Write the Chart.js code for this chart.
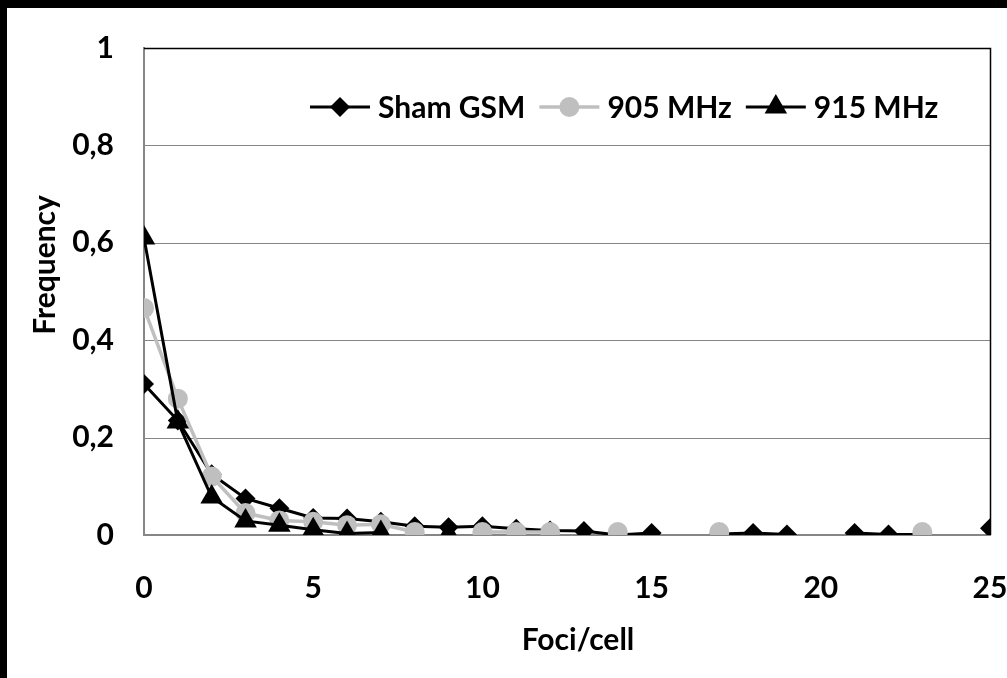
<!DOCTYPE html>
<html>
<head>
<meta charset="utf-8">
<script src="https://cdn.jsdelivr.net/npm/chart.js@4/dist/chart.umd.min.js"></script>
<style>
  html, body { margin: 0; padding: 0; background: #000; width: 1007px; height: 678px; overflow: hidden; }
  #wrap { position: absolute; left: 7px; top: 8px; width: 1000px; height: 670px; background: #fff; }
  canvas { display: block; }
</style>
</head>
<body>
<div id="wrap"><canvas id="c" width="1000" height="670"></canvas></div>
<script>
// ---- data ----
const fociPerCell = [0,1,2,3,4,5,6,7,8,9,10,11,12,13,14,15,16,17,18,19,20,21,22,23,24,25];
const shamGSM = [0.31,0.235,0.125,0.075,0.055,0.035,0.034,0.027,0.018,0.016,0.018,0.013,0.009,0.008,0.0,0.004,null,0.002,0.004,0.001,null,0.004,0.001,0.001,null,0.014];
const mhz905  = [0.466,0.28,0.12,0.045,0.03,0.027,0.02,0.022,0.006,null,0.006,0.006,0.006,null,0.006,null,null,0.006,null,null,null,null,null,0.006,null,null];
const mhz915  = [0.61,0.232,0.078,0.029,0.02,0.011,0.003,0.005,null,0.002,null,null,null,null,null,null,null,null,null,null,null,null,null,null,null,null];
const seriesNames = ['Sham GSM', '905 MHz', '915 MHz'];
const yTicks = [0, 0.2, 0.4, 0.6, 0.8, 1];
const xTicks = [0, 5, 10, 15, 20, 25];
const xTitle = 'Foci/cell';
const yTitle = 'Frequency';

const toPts = arr => fociPerCell.map((x, i) => ({ x: x, y: arr[i] }));

const FONT = 'Lato, "Open Sans", sans-serif';
Chart.defaults.font.family = FONT;
Chart.defaults.font.weight = 'bold';
Chart.defaults.font.size = 30;
Chart.defaults.color = '#000';

const datasets = [
  { label: seriesNames[0], data: toPts(shamGSM), borderColor: '#000', backgroundColor: '#000',
    borderWidth: 3, pointStyle: 'rectRot', pointRadius: 10, pointBorderWidth: 0, order: 3 },
  { label: seriesNames[1], data: toPts(mhz905), borderColor: '#BFBFBF', backgroundColor: '#BFBFBF',
    borderWidth: 3.5, pointStyle: 'circle', pointRadius: 10, pointBorderWidth: 0, order: 2 },
  { label: seriesNames[2], data: toPts(mhz915), borderColor: '#000', backgroundColor: '#000',
    borderWidth: 3, pointStyle: 'triangle', pointRadius: 13, pointBorderWidth: 0, order: 1 }
];

// gridlines and plot-area frame, positioned through the chart's own scales
const framePlugin = {
  id: 'plotFrame',
  beforeDatasetsDraw(chart) {
    const ctx = chart.ctx;
    const a = chart.chartArea;
    const ys = chart.scales.y;
    ctx.save();
    ctx.lineWidth = 1;
    ctx.strokeStyle = '#868686';
    yTicks.forEach(v => {
      if (v === 0 || v === 1) return;
      const py = Math.round(ys.getPixelForValue(v)) + 0.5;
      ctx.beginPath();
      ctx.moveTo(a.left, py);
      ctx.lineTo(a.right, py);
      ctx.stroke();
    });
    const top = Math.round(ys.getPixelForValue(1));
    ctx.strokeStyle = '#000';
    ctx.lineWidth = 1.5;
    ctx.beginPath();
    ctx.moveTo(a.left, top + 0.5);
    ctx.lineTo(a.right + 0.5, top + 0.5);
    ctx.lineTo(a.right + 0.5, a.bottom);
    ctx.stroke();
    ctx.restore();
  }
};

const legendPlugin = {
  id: 'lineLegend',
  afterDraw(chart) {
    const ctx = chart.ctx;
    const area = chart.chartArea;
    const y = area.top + 59;
    let x = area.left + 166;
    ctx.save();
    ctx.font = 'bold 30px ' + FONT;
    ctx.textBaseline = 'middle';
    ctx.textAlign = 'left';
    datasets.forEach(ds => {
      ctx.strokeStyle = ds.borderColor;
      ctx.lineWidth = ds.borderWidth;
      ctx.beginPath();
      ctx.moveTo(x, y);
      ctx.lineTo(x + 60, y);
      ctx.stroke();
      ctx.fillStyle = ds.backgroundColor;
      Chart.helpers.drawPoint(ctx, { pointStyle: ds.pointStyle, rotation: 0, radius: ds.pointRadius, borderWidth: 0 }, x + 30, y);
      ctx.fillStyle = '#000';
      ctx.fillText(ds.label, x + 68, y + 1);
      x = x + 68 + ctx.measureText(ds.label).width + 14;
    });
    // axis titles
    ctx.textAlign = 'center';
    ctx.fillText(xTitle, area.left + 434, area.bottom + 105);
    ctx.translate(38, area.top + 217);
    ctx.rotate(-Math.PI / 2);
    ctx.fillText(yTitle, 0, 0);
    ctx.restore();
  }
};

new Chart(document.getElementById('c'), {
  type: 'line',
  data: { datasets: datasets },
  plugins: [framePlugin, legendPlugin],
  options: {
    responsive: false,
    animation: false,
    spanGaps: false,
    layout: { padding: { top: 38, right: 17, left: 0, bottom: 0 } },
    plugins: { legend: { display: false }, tooltip: { enabled: false } },
    scales: {
      x: {
        type: 'linear', min: 0, max: 25,
        afterBuildTicks: s => { s.ticks = xTicks.map(v => ({ value: v })); },
        afterFit: s => { s.height = 143; s.paddingRight = 0; s.paddingLeft = 0; },
        ticks: { padding: 27, font: { size: 30, weight: 'bold' } },
        grid: { display: false },
        border: { color: '#868686', width: 2 },
        title: { display: false }
      },
      y: {
        type: 'linear', min: 0, max: 1,
        afterBuildTicks: s => { s.ticks = yTicks.map(v => ({ value: v })); },
        afterFit: s => { s.width = 137; },
        ticks: { padding: 22, font: { size: 30, weight: 'bold' },
          callback: v => (v === 0 || v === 1) ? String(v) : v.toFixed(1).replace('.', ',') },
        grid: { display: false },
        border: { color: '#868686', width: 2 },
        title: { display: false }
      }
    }
  }
});
</script>
</body>
</html>
